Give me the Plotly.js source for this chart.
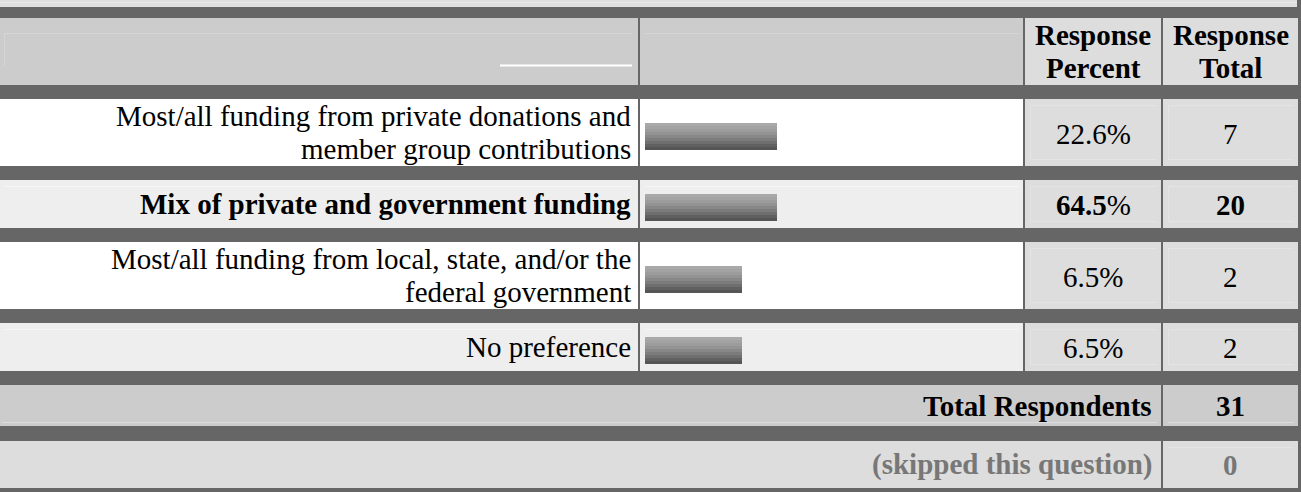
<!DOCTYPE html>
<html>
<head>
<meta charset="utf-8">
<script src="https://cdn.plot.ly/plotly-3.0.1.min.js"></script>
<style>html,body{margin:0;padding:0;background:#666666;overflow:hidden}#chart{width:1301px;height:492px}</style>
</head>
<body>
<div id="chart"></div>
<script>
// ---- data ----
const answerChoices = [
  "Most/all funding from private donations and<br>member group contributions",
  "Mix of private and government funding",
  "Most/all funding from local, state, and/or the<br>federal government",
  "No preference"
];
const responsePercent = [22.6, 64.5, 6.5, 6.5];
const responseTotal = [7, 20, 2, 2];
// bar lengths as drawn in the picture (percent of the bar column width)
const barShown = [34.9, 34.9, 25.7, 25.7];
const headerLabels = ["Response<br>Percent", "Response<br>Total"];
const totalRespondents = 31;
const skippedQuestion = 0;
const highlightedRow = 1;

// ---- layout geometry (pixels) ----
const W = 1301, H = 492;
const X = p => p / W;
const Y = p => 1 - p / H;
const DARK = '#666666';
const FONT = 'Liberation Serif, Times New Roman, serif';
const FS = 29;

const headerRow = [18, 85];
const rowSpans = [[99, 166], [180, 228], [242, 309], [323, 371]];
const totalRow = [385, 426];
const skippedRow = [441, 488];
const colLabel = [0, 638], colBar = [640, 1023], colPct = [1025, 1161], colTot = [1163, 1298];
const rowFill = ['#ffffff', '#eeeeee', '#ffffff', '#eeeeee'];

const shapes = [];
function rect(x0, x1, y0, y1, fill) {
  shapes.push({type: 'rect', xref: 'paper', yref: 'paper', x0: X(x0), x1: X(x1), y0: Y(y1), y1: Y(y0),
    fillcolor: fill, line: {width: 0}, layer: 'below'});
}
function hline(x0, x1, y, color, w) {
  shapes.push({type: 'line', xref: 'paper', yref: 'paper', x0: X(x0), x1: X(x1), y0: Y(y), y1: Y(y),
    line: {color: color, width: w || 1}, layer: 'below'});
}
function vline(x, y0, y1, color, w) {
  shapes.push({type: 'line', xref: 'paper', yref: 'paper', x0: X(x), x1: X(x), y0: Y(y0), y1: Y(y1),
    line: {color: color, width: w || 1}, layer: 'below'});
}

// top strip
rect(0, 1297, 0, 7, '#e0e0e0');
hline(0, 1297, 2.5, '#e8e8e8', 1);
// header
rect(colLabel[0], colLabel[1], headerRow[0], headerRow[1], '#cccccc');
rect(colBar[0], colBar[1], headerRow[0], headerRow[1], '#cccccc');
rect(colPct[0], colPct[1], headerRow[0], headerRow[1], '#dddddd');
rect(colTot[0], colTot[1], headerRow[0], headerRow[1], '#dddddd');
hline(4, 632, 33.5, '#d6d6d6');
vline(4.5, 33, 66, '#d6d6d6');
hline(500, 632, 65.5, '#ffffff', 2);
hline(645, 1019, 33.5, '#d6d6d6');
// answer rows
rowSpans.forEach((r, i) => {
  rect(colLabel[0], colLabel[1], r[0], r[1], rowFill[i]);
  rect(colBar[0], colBar[1], r[0], r[1], rowFill[i]);
  rect(colPct[0], colPct[1], r[0], r[1], '#dddddd');
  rect(colTot[0], colTot[1], r[0], r[1], '#dddddd');
  if (i % 2 === 1) { hline(4, 632, r[0] + 6.5, '#f6f6f6'); hline(645, 1019, r[0] + 6.5, '#f6f6f6'); }
  hline(1030, 1157, r[0] + 6.5, '#e4e4e4');
  hline(1030, 1157, r[1] - 6.5, '#e4e4e4');
  hline(1168, 1294, r[0] + 6.5, '#e4e4e4');
  hline(1168, 1294, r[1] - 6.5, '#e4e4e4');
  vline(1030.5, r[0] + 6, r[1] - 6, '#e4e4e4');
  vline(1168.5, r[0] + 6, r[1] - 6, '#e4e4e4');
});
// totals
rect(0, 1161, totalRow[0], totalRow[1], '#cccccc');
rect(colTot[0], colTot[1], totalRow[0], totalRow[1], '#cccccc');
hline(2, 1157, totalRow[1] - 3.5, '#dcdcdc');
hline(1168, 1294, totalRow[1] - 3.5, '#dcdcdc');
rect(0, 1161, skippedRow[0], skippedRow[1], '#dddddd');
rect(colTot[0], colTot[1], skippedRow[0], skippedRow[1], '#dddddd');
hline(1168, 1294, skippedRow[0] + 6.5, '#e4e4e4');

// ---- annotations ----
const annotations = [];
function txt(text, x, y, anchor, opts) {
  opts = opts || {};
  annotations.push({xref: 'paper', yref: 'paper', x: X(x), y: Y(y), text: text, showarrow: false,
    xanchor: anchor, yanchor: 'middle', align: anchor === 'right' ? 'right' : 'center',
    font: {family: FONT, size: opts.size || FS, color: opts.color || '#000000'}});
}
const LINE = 32.5;
function multiline(text, x, yc, anchor, opts, bold) {
  const lines = text.split('<br>');
  lines.forEach((ln, i) => {
    const y = yc + (i - (lines.length - 1) / 2) * LINE;
    txt(bold ? '<b>' + ln + '</b>' : ln, x, y, anchor, opts);
  });
}
const pctCenter = (colPct[0] + colPct[1]) / 2;
const totCenter = (colTot[0] + colTot[1]) / 2;
const headerMid = (headerRow[0] + headerRow[1]) / 2;
multiline(headerLabels[0], pctCenter, headerMid, 'center', {}, true);
multiline(headerLabels[1], totCenter, headerMid, 'center', {}, true);

const rowCenters = rowSpans.map(r => (r[0] + r[1]) / 2);
answerChoices.forEach((a, i) => {
  const bold = i === highlightedRow;
  multiline(a, 633, rowCenters[i], 'right', {}, bold);
  const p = responsePercent[i].toFixed(1);
  txt(bold ? '<b>' + p + '</b>%' : p + '%', pctCenter, rowCenters[i] + 1, 'center');
  txt(bold ? '<b>' + responseTotal[i] + '</b>' : String(responseTotal[i]), totCenter, rowCenters[i] + 1, 'center');
});
const totalMid = (totalRow[0] + totalRow[1]) / 2;
txt('<b>Total Respondents</b>', 1154, totalMid, 'right');
txt('<b>' + totalRespondents + '</b>', totCenter, totalMid, 'center');
const skipMid = (skippedRow[0] + skippedRow[1]) / 2;
txt('<b>(skipped this question)</b>', 1154, skipMid, 'right', {color: '#777777'});
txt('<b>' + skippedQuestion + '</b>', totCenter, skipMid, 'center', {color: '#777777'});

// ---- bars: horizontal stripes give the shaded look ----
const stripeColors = ['#a9a9a9', '#a3a3a3', '#9c9c9c', '#939393', '#888888', '#7c7c7c', '#6f6f6f', '#606060', '#555555'];
const STRIPE = 3;
const barTopOffset = -10;
const traces = stripeColors.map((c, k) => ({
  type: 'bar', orientation: 'h',
  x: barShown, y: rowCenters,
  width: STRIPE, offset: barTopOffset + k * STRIPE,
  marker: {color: c, line: {width: 0}},
  hoverinfo: 'skip', showlegend: false
}));

const layout = {
  width: W, height: H,
  margin: {l: 0, r: 0, t: 0, b: 0},
  paper_bgcolor: DARK, plot_bgcolor: 'rgba(0,0,0,0)',
  barmode: 'overlay', bargap: 0,
  xaxis: {domain: [X(645), X(1023)], range: [0, 100], visible: false, fixedrange: true},
  yaxis: {domain: [0, 1], range: [H, 0], visible: false, fixedrange: true},
  shapes: shapes, annotations: annotations,
  showlegend: false
};
Plotly.newPlot('chart', traces, layout, {displayModeBar: false, staticPlot: true});
</script>
</body>
</html>
